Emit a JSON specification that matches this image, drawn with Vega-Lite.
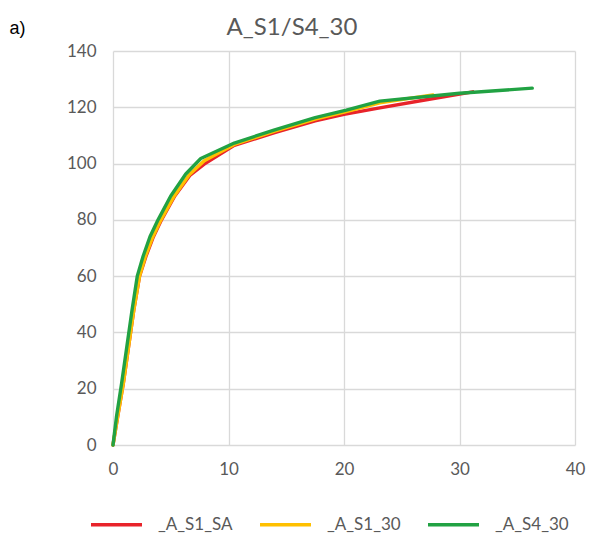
{
  "$schema": "https://vega.github.io/schema/vega-lite/v6.json",
  "autosize": "none",
  "width": 462,
  "height": 394,
  "padding": {"left": 113, "top": 51, "right": 16, "bottom": 90},
  "background": "white",
  "config": {
    "font": "Lato",
    "view": {"stroke": null},
    "axis": {"gridColor": "#d9d9d9", "gridWidth": 1.3, "domain": false, "ticks": false, "labelColor": "#595959", "labelFontSize": 17, "labelFont": "Lato", "labelFlush": false}
  },
  "title": {"text": "A_S1/S4_30", "frame": "group", "anchor": "middle", "fontSize": 24, "font": "Lato", "fontWeight": "normal", "color": "#595959", "baseline": "alphabetic", "offset": -40, "dx": -52},
  "data": {"values": [
    {"s": "_A_S1_SA", "x": 0, "y": 0}, {"s": "_A_S1_SA", "x": 0.4, "y": 10}, {"s": "_A_S1_SA", "x": 0.9, "y": 22}, {"s": "_A_S1_SA", "x": 1.35, "y": 35}, {"s": "_A_S1_SA", "x": 1.8, "y": 48}, {"s": "_A_S1_SA", "x": 2.3, "y": 60}, {"s": "_A_S1_SA", "x": 2.85, "y": 67}, {"s": "_A_S1_SA", "x": 3.5, "y": 74}, {"s": "_A_S1_SA", "x": 4.2, "y": 80}, {"s": "_A_S1_SA", "x": 5.35, "y": 88.5}, {"s": "_A_S1_SA", "x": 6.65, "y": 95.8}, {"s": "_A_S1_SA", "x": 7.9, "y": 99.8}, {"s": "_A_S1_SA", "x": 10.5, "y": 106.5}, {"s": "_A_S1_SA", "x": 14, "y": 111}, {"s": "_A_S1_SA", "x": 17.5, "y": 115.2}, {"s": "_A_S1_SA", "x": 20, "y": 117.5}, {"s": "_A_S1_SA", "x": 23.1, "y": 119.8}, {"s": "_A_S1_SA", "x": 27, "y": 122.6}, {"s": "_A_S1_SA", "x": 31.15, "y": 125.5},
    {"s": "_A_S1_30", "x": 0, "y": 0}, {"s": "_A_S1_30", "x": 0.4, "y": 10}, {"s": "_A_S1_30", "x": 0.9, "y": 22}, {"s": "_A_S1_30", "x": 1.35, "y": 35}, {"s": "_A_S1_30", "x": 1.8, "y": 48}, {"s": "_A_S1_30", "x": 2.3, "y": 60}, {"s": "_A_S1_30", "x": 2.8, "y": 67}, {"s": "_A_S1_30", "x": 3.45, "y": 74}, {"s": "_A_S1_30", "x": 4.15, "y": 80}, {"s": "_A_S1_30", "x": 5.3, "y": 88.5}, {"s": "_A_S1_30", "x": 6.6, "y": 96}, {"s": "_A_S1_30", "x": 7.9, "y": 101}, {"s": "_A_S1_30", "x": 10.5, "y": 106.8}, {"s": "_A_S1_30", "x": 14, "y": 111.5}, {"s": "_A_S1_30", "x": 17.5, "y": 115.8}, {"s": "_A_S1_30", "x": 20.2, "y": 118.5}, {"s": "_A_S1_30", "x": 23.1, "y": 121.6}, {"s": "_A_S1_30", "x": 27.7, "y": 124.4},
    {"s": "_A_S4_30", "x": 0, "y": 0}, {"s": "_A_S4_30", "x": 0.3, "y": 10}, {"s": "_A_S4_30", "x": 0.75, "y": 22}, {"s": "_A_S4_30", "x": 1.2, "y": 35}, {"s": "_A_S4_30", "x": 1.65, "y": 48}, {"s": "_A_S4_30", "x": 2.1, "y": 60}, {"s": "_A_S4_30", "x": 2.6, "y": 67}, {"s": "_A_S4_30", "x": 3.2, "y": 74}, {"s": "_A_S4_30", "x": 3.9, "y": 80}, {"s": "_A_S4_30", "x": 5.0, "y": 88.5}, {"s": "_A_S4_30", "x": 6.3, "y": 96.3}, {"s": "_A_S4_30", "x": 7.6, "y": 101.8}, {"s": "_A_S4_30", "x": 10.5, "y": 107.3}, {"s": "_A_S4_30", "x": 14, "y": 112}, {"s": "_A_S4_30", "x": 17.5, "y": 116.3}, {"s": "_A_S4_30", "x": 20.2, "y": 119}, {"s": "_A_S4_30", "x": 23.1, "y": 122.2}, {"s": "_A_S4_30", "x": 30, "y": 125}, {"s": "_A_S4_30", "x": 36.3, "y": 126.8}
  ]},
  "mark": {"type": "line", "strokeWidth": 3.4, "strokeCap": "round", "strokeJoin": "round"},
  "encoding": {
    "x": {"field": "x", "type": "quantitative", "scale": {"domain": [0, 40], "nice": false}, "axis": {"values": [0, 10, 20, 30, 40], "title": null, "labelPadding": 16}},
    "y": {"field": "y", "type": "quantitative", "scale": {"domain": [0, 140], "nice": false}, "axis": {"values": [0, 20, 40, 60, 80, 100, 120, 140], "labelPadding": 17, "title": "a)", "titleAngle": 0, "titleX": -104, "titleY": -18, "titleAlign": "left", "titleBaseline": "alphabetic", "titleColor": "black", "titleFontSize": 18, "titleFont": "Liberation Sans", "titleFontWeight": "normal"}},
    "color": {"field": "s", "type": "nominal", "scale": {"domain": ["_A_S1_SA", "_A_S1_30", "_A_S4_30"], "range": ["#e8232a", "#ffc000", "#21a243"]},
      "legend": {"title": null, "orient": "none", "direction": "horizontal", "legendX": -24, "legendY": 446, "symbolType": "stroke", "symbolSize": 2600, "symbolStrokeWidth": 3.4, "labelFontSize": 17, "labelColor": "#595959", "labelOffset": 14, "columnPadding": 20, "labelLimit": 200}},
    "order": {"field": "s"}
  }
}
